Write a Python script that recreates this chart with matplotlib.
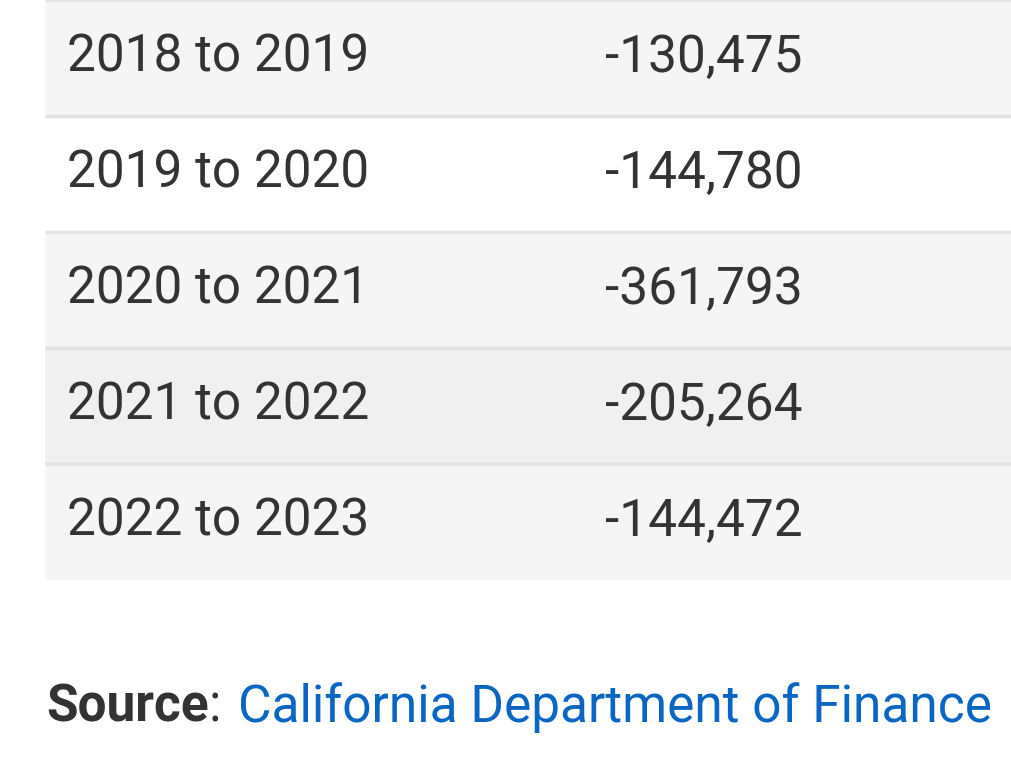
import matplotlib
matplotlib.use("Agg")
import matplotlib.pyplot as plt
from matplotlib.patches import Rectangle

periods = ["2018 to 2019", "2019 to 2020", "2020 to 2021", "2021 to 2022", "2022 to 2023"]
net_migration = [-130475, -144780, -361793, -205264, -144472]
row_colors = ["#f5f5f5", "#ffffff", "#f5f5f5", "#f0f0f0", "#f5f5f5"]

plt.rcParams["font.family"] = ["Roboto", "DejaVu Sans"]

W, H = 1011, 773
fig = plt.figure(figsize=(W / 100, H / 100), dpi=100)
ax = fig.add_axes([0, 0, 1, 1])
ax.set_xlim(0, W)
ax.set_ylim(H, 0)
ax.axis("off")

row_h = 116
top = 0
for i, (period, value, color) in enumerate(zip(periods, net_migration, row_colors)):
    y0 = top + i * row_h
    ax.add_patch(Rectangle((45, y0), W - 45, row_h, facecolor=color, edgecolor="none"))
    ax.plot([45, W], [y0, y0], color="#e2e2e2", lw=2.5, solid_capstyle="butt")
    yc = y0 + row_h / 2
    ax.text(67, yc, period, fontsize=37, color="#333333", va="center", ha="left")
    ax.text(605, yc, f"{value:,}".replace("-", "-"), fontsize=37, color="#333333", va="center", ha="left")

fig.canvas.draw()
renderer = fig.canvas.get_renderer()
inv = ax.transData.inverted()

x = 46
ys = 708
t1 = ax.text(x, ys, "Source", fontsize=37, fontweight="bold", color="#333333", va="center", ha="left")
bb = inv.transform(t1.get_window_extent(renderer))
x = bb[1][0]
t2 = ax.text(x, ys, ": ", fontsize=37, color="#333333", va="center", ha="left")
bb = inv.transform(t2.get_window_extent(renderer))
x = bb[1][0]
ax.text(x + 4, ys, "California Department of Finance", fontsize=37, color="#0a66c2", va="center", ha="left")

fig.savefig("out.png", dpi=100, facecolor="white")
